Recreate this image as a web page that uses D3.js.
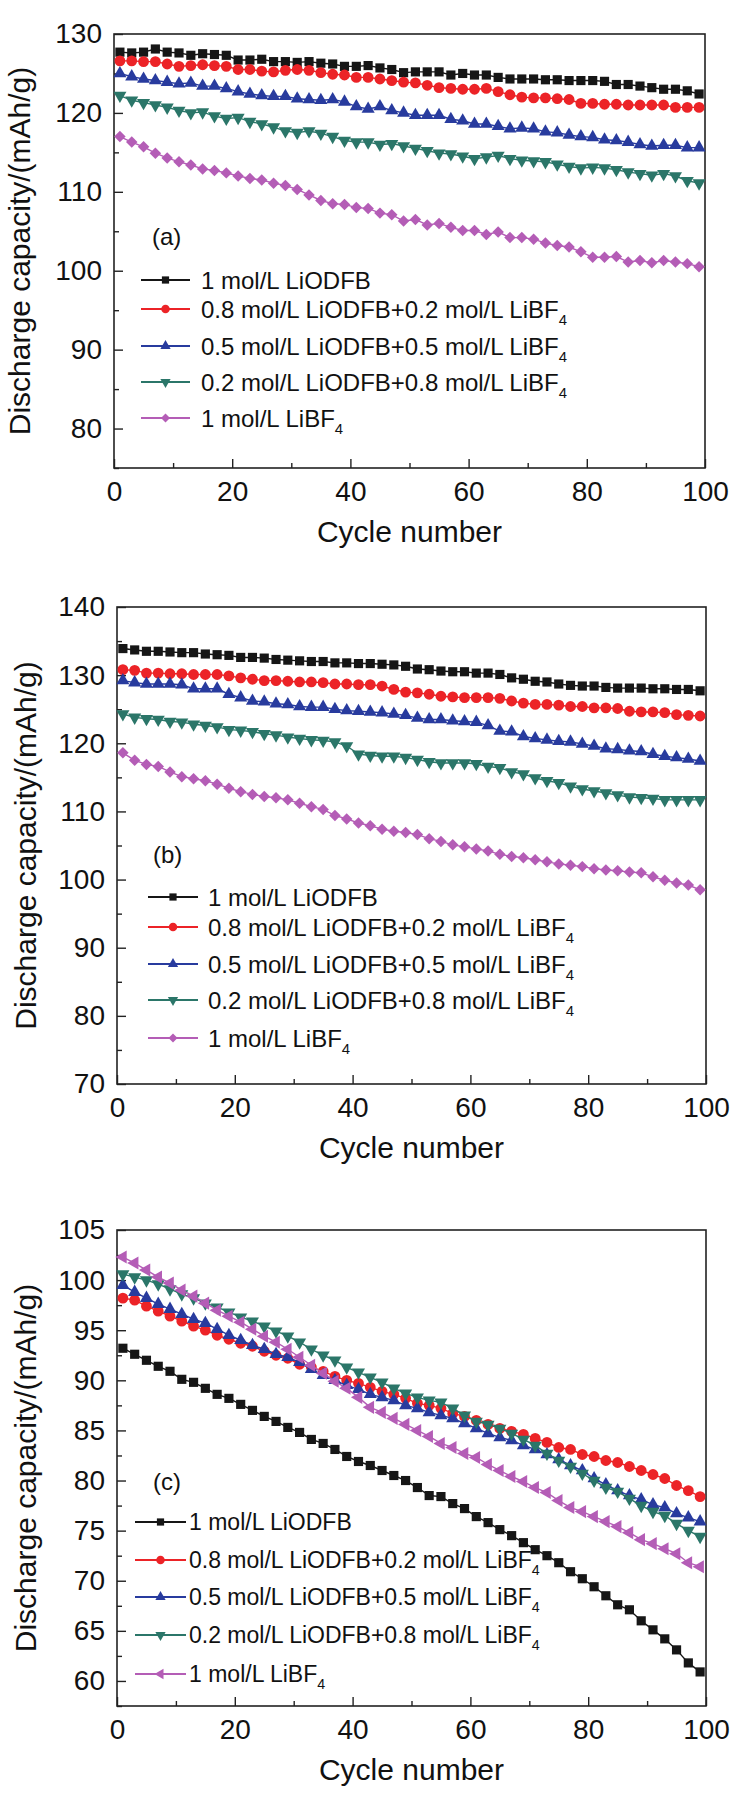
<!DOCTYPE html>
<html>
<head>
<meta charset="utf-8">
<script src="https://cdn.jsdelivr.net/npm/d3@7"></script>
<style>
  body { margin: 0; background: #fff; }
  text { font-family: "Liberation Sans", Arial, sans-serif; fill: #111; }
</style>
</head>
<body>
<div id="chart"></div>
<script>
// cycles with a marker (every second cycle)
const cycles = d3.range(1, 100, 2)
const xTicks = [0, 20, 40, 60, 80, 100]
const xMinor = [10, 30, 50, 70, 90]

const seriesColors = ["#161616", "#ec2327", "#283b9e", "#2b7669", "#b45db6"]
const legendMain = ["1 mol/L LiODFB", "0.8 mol/L LiODFB+0.2 mol/L LiBF", "0.5 mol/L LiODFB+0.5 mol/L LiBF",
  "0.2 mol/L LiODFB+0.8 mol/L LiBF", "1 mol/L LiBF"]
const legendSub = ["", "4", "4", "4", "4"]

// panel (a)
const aTicks = [80, 90, 100, 110, 120, 130]
const aMinor = [75, 85, 95, 105, 115, 125]
const aBlack = [127.7, 127.6, 127.7, 128.1, 127.7, 127.6, 127.3, 127.5, 127.4, 127.3, 126.7, 126.7, 126.8, 126.5, 126.5, 126.4, 126.5, 126.3, 126.2, 125.9, 125.9, 126.0, 125.7, 125.5, 125.1, 125.2, 125.2, 125.2, 124.8, 125.0, 124.8, 124.8, 124.5, 124.3, 124.3, 124.3, 124.2, 124.2, 124.1, 124.1, 124.1, 124.0, 123.6, 123.6, 123.4, 123.2, 123.0, 123.0, 122.8, 122.4]
const aRed = [126.6, 126.6, 126.5, 126.5, 126.2, 125.9, 126.0, 126.1, 126.0, 125.9, 125.5, 125.5, 125.3, 125.2, 125.4, 125.5, 125.4, 125.1, 124.9, 124.8, 124.5, 124.5, 124.3, 124.1, 123.9, 123.8, 123.5, 123.2, 123.1, 123.0, 123.0, 123.1, 122.7, 122.3, 122.0, 121.9, 121.9, 121.8, 121.7, 121.2, 121.2, 121.1, 121.1, 121.0, 121.0, 121.0, 121.0, 120.7, 120.7, 120.7]
const aBlue = [125.0, 124.6, 124.3, 124.1, 123.9, 123.7, 123.8, 123.4, 123.4, 123.1, 122.7, 122.4, 122.2, 122.1, 122.1, 121.8, 121.7, 121.6, 121.7, 121.4, 120.8, 120.5, 120.8, 120.3, 120.0, 119.7, 119.7, 119.7, 119.2, 119.0, 118.6, 118.6, 118.3, 118.0, 118.1, 118.0, 117.6, 117.5, 117.2, 117.0, 116.9, 116.6, 116.5, 116.3, 116.0, 115.8, 115.9, 115.9, 115.6, 115.6]
const aGreen = [122.2, 121.6, 121.3, 121.0, 120.7, 120.3, 120.0, 120.1, 119.6, 119.3, 119.4, 118.9, 118.6, 118.2, 117.7, 117.5, 117.7, 117.4, 117.0, 116.5, 116.3, 116.3, 116.0, 116.1, 115.8, 115.5, 115.2, 114.9, 114.8, 114.5, 114.2, 114.4, 114.6, 114.2, 114.0, 113.9, 113.8, 113.5, 113.2, 113.0, 113.1, 113.0, 112.8, 112.5, 112.3, 112.1, 112.3, 112.0, 111.4, 111.1]
const aPurple = [117.0, 116.3, 115.7, 114.9, 114.3, 113.8, 113.4, 112.9, 112.7, 112.4, 112.0, 111.7, 111.5, 111.1, 110.8, 110.3, 109.6, 108.9, 108.5, 108.4, 108.0, 107.9, 107.3, 107.1, 106.3, 106.5, 105.8, 106.0, 105.5, 105.1, 105.1, 104.6, 104.9, 104.2, 104.2, 104.0, 103.5, 103.2, 103.0, 102.4, 101.7, 101.7, 101.8, 101.1, 101.3, 101.0, 101.3, 101.1, 100.9, 100.5]

// panel (b)
const bTicks = [70, 80, 90, 100, 110, 120, 130, 140]
const bMinor = [75, 85, 95, 105, 115, 125, 135]
const bBlack = [133.9, 133.7, 133.5, 133.5, 133.4, 133.3, 133.3, 133.1, 133.0, 132.9, 132.6, 132.6, 132.5, 132.3, 132.2, 132.1, 132.0, 132.0, 131.8, 131.8, 131.7, 131.7, 131.6, 131.5, 131.3, 130.9, 130.8, 130.6, 130.5, 130.5, 130.3, 130.3, 130.1, 129.6, 129.4, 129.1, 129.0, 128.7, 128.5, 128.4, 128.4, 128.2, 128.1, 128.1, 128.1, 128.0, 128.0, 127.9, 127.9, 127.7]
const bRed = [130.8, 130.7, 130.3, 130.3, 130.2, 130.2, 130.1, 130.1, 130.1, 129.9, 129.6, 129.4, 129.2, 129.2, 129.1, 129.0, 129.0, 128.9, 128.7, 128.7, 128.6, 128.6, 128.4, 127.9, 127.5, 127.4, 127.2, 126.9, 126.8, 126.7, 126.7, 126.7, 126.6, 126.2, 125.9, 125.7, 125.7, 125.6, 125.4, 125.4, 125.2, 125.2, 125.1, 124.7, 124.6, 124.6, 124.5, 124.2, 124.1, 124.0]
const bBlue = [129.2, 128.9, 128.7, 128.7, 128.7, 128.6, 128.0, 128.0, 128.0, 127.2, 126.7, 126.2, 126.1, 125.8, 125.7, 125.4, 125.3, 125.3, 125.0, 124.8, 124.7, 124.6, 124.5, 124.3, 124.1, 123.7, 123.5, 123.5, 123.3, 123.2, 123.1, 122.6, 121.8, 121.7, 121.0, 120.7, 120.5, 120.3, 120.2, 119.9, 119.6, 119.2, 119.1, 118.9, 118.8, 118.4, 118.1, 117.9, 117.7, 117.4]
const bGreen = [124.3, 123.8, 123.6, 123.5, 123.2, 123.1, 122.8, 122.6, 122.4, 122.0, 121.9, 121.7, 121.4, 121.2, 120.9, 120.7, 120.5, 120.4, 120.2, 119.6, 118.4, 118.2, 118.1, 118.1, 117.9, 117.6, 117.3, 117.1, 117.1, 117.1, 117.0, 116.6, 116.4, 115.8, 115.5, 114.9, 114.5, 114.2, 113.7, 113.3, 113.0, 112.7, 112.4, 112.1, 112.0, 111.9, 111.7, 111.7, 111.7, 111.7]
const bPurple = [118.6, 117.5, 116.9, 116.6, 115.8, 115.1, 114.8, 114.5, 114.0, 113.4, 112.9, 112.5, 112.2, 112.0, 111.7, 111.2, 110.7, 110.3, 109.4, 108.9, 108.3, 107.9, 107.4, 107.1, 106.9, 106.6, 106.0, 105.6, 105.1, 104.8, 104.5, 104.2, 103.7, 103.4, 103.2, 102.9, 102.6, 102.3, 102.1, 101.9, 101.6, 101.4, 101.3, 101.1, 101.0, 100.4, 99.9, 99.5, 99.2, 98.5]

// panel (c)
const cTicks = [60, 65, 70, 75, 80, 85, 90, 95, 100, 105]
const cMinor = [57.5, 62.5, 67.5, 72.5, 77.5, 82.5, 87.5, 92.5, 97.5, 102.5]
const cBlack = [93.2, 92.6, 92.0, 91.4, 90.9, 90.1, 89.8, 89.2, 88.6, 88.2, 87.6, 87.0, 86.4, 85.9, 85.3, 84.8, 84.1, 83.7, 83.1, 82.4, 81.9, 81.5, 81.0, 80.5, 80.0, 79.3, 78.5, 78.4, 77.7, 77.2, 76.4, 75.8, 75.1, 74.5, 73.8, 73.1, 72.5, 71.8, 70.9, 70.2, 69.4, 68.5, 67.6, 67.1, 66.0, 65.1, 64.2, 63.1, 61.8, 60.9]
const cRed = [98.2, 98.0, 97.4, 96.9, 96.4, 95.9, 95.4, 95.0, 94.5, 94.1, 93.7, 93.4, 92.9, 92.5, 92.2, 91.6, 91.3, 90.9, 90.4, 90.0, 89.7, 89.3, 88.9, 88.6, 88.2, 87.7, 87.5, 87.2, 86.7, 86.4, 86.0, 85.6, 85.2, 84.9, 84.6, 84.2, 83.8, 83.3, 83.1, 82.6, 82.4, 82.0, 81.8, 81.4, 81.0, 80.6, 80.2, 79.5, 79.0, 78.4]
const cBlue = [99.5, 98.8, 98.2, 97.6, 97.1, 96.6, 96.1, 95.7, 95.1, 94.5, 94.0, 93.5, 93.1, 92.6, 92.3, 91.8, 91.1, 90.5, 90.0, 89.5, 89.1, 88.6, 88.3, 88.0, 87.5, 87.2, 86.8, 86.5, 86.2, 85.7, 85.2, 84.7, 84.3, 84.0, 83.5, 83.1, 82.6, 82.1, 81.5, 81.0, 80.2, 79.6, 79.0, 78.5, 78.1, 77.6, 77.3, 76.7, 76.3, 75.9]
const cGreen = [100.6, 100.3, 100.0, 99.6, 99.1, 98.6, 98.2, 97.7, 97.3, 96.8, 96.3, 95.9, 95.4, 94.9, 94.4, 93.8, 93.1, 92.5, 92.0, 91.3, 90.8, 90.3, 89.8, 89.2, 88.7, 88.3, 88.0, 87.8, 87.2, 86.5, 85.9, 85.6, 85.2, 84.7, 84.1, 83.5, 82.7, 82.0, 81.4, 80.7, 80.0, 79.3, 78.9, 78.2, 77.5, 76.9, 76.5, 75.7, 75.0, 74.4]
const cPurple = [102.3, 101.7, 101.0, 100.3, 99.7, 99.0, 98.4, 97.7, 97.0, 96.4, 95.8, 95.1, 94.4, 93.8, 93.1, 92.3, 91.5, 90.7, 89.9, 89.2, 88.3, 87.3, 86.8, 86.2, 85.6, 85.0, 84.4, 83.7, 83.3, 82.7, 82.3, 81.6, 81.0, 80.4, 79.9, 79.3, 78.8, 78.0, 77.3, 76.9, 76.4, 75.9, 75.4, 74.8, 74.1, 73.7, 73.2, 72.7, 71.8, 71.4]

// layout of the three panels
const panels = [
  {tag: "(a)", series: [aBlack, aRed, aBlue, aGreen, aPurple], yDomain: [75, 130], ticks: aTicks, minor: aMinor,
   box: {l: 114, r: 705, t: 34, b: 468}, titleX: 30, tagAt: [38, 211],
   legend: {y: 246, rows: [0, 29, 66, 102, 138], x0: 27, x1: 76, tx: 87, fs: 24},
   shapes: ["square", "circle", "up", "down", "diamond"]},
  {tag: "(b)", series: [bBlack, bRed, bBlue, bGreen, bPurple], yDomain: [70, 140], ticks: bTicks, minor: bMinor,
   box: {l: 117, r: 706, t: 607, b: 1084}, titleX: 36, tagAt: [36, 256],
   legend: {y: 290, rows: [0, 30, 67, 103, 141], x0: 31, x1: 81, tx: 91, fs: 24},
   shapes: ["square", "circle", "up", "down", "diamond"]},
  {tag: "(c)", series: [cBlack, cRed, cBlue, cGreen, cPurple], yDomain: [57.5, 105], ticks: cTicks, minor: cMinor,
   box: {l: 117, r: 706, t: 1230, b: 1706}, titleX: 36, tagAt: [36, 260],
   legend: {y: 292, rows: [0, 38, 75, 113, 152], x0: 18, x1: 69, tx: 72, fs: 23},
   shapes: ["square", "circle", "up", "down", "left"]}
]

const svg = d3.select("#chart").append("svg")
  .attr("width", 744)
  .attr("height", 1800)
  .style("background", "#fff")

// marker path + rotation, k scales the area
function marker(shape, k) {
  if (shape === "square") return {d: d3.symbol(d3.symbolSquare, 84 * k)(), r: 0}
  if (shape === "circle") return {d: d3.symbol(d3.symbolCircle, 92 * k)(), r: 0}
  if (shape === "diamond") return {d: d3.symbol(d3.symbolSquare, 66 * k)(), r: 45}
  const tri = d3.symbol(d3.symbolTriangle, 74 * k)()
  if (shape === "up") return {d: tri, r: 0}
  if (shape === "down") return {d: tri, r: 180}
  return {d: tri, r: -90}
}

panels.forEach(function(p) {
  const bx = p.box
  const g = svg.append("g").attr("transform", `translate(${bx.l},${bx.t})`)
  const w = bx.r - bx.l, h = bx.b - bx.t

  const x = d3.scaleLinear().domain([0, 100]).range([0, w])
  const y = d3.scaleLinear().domain(p.yDomain).range([h, 0])

  // axes with inward ticks
  g.append("g").attr("transform", `translate(0,${h})`)
    .call(d3.axisBottom(x).tickValues(xTicks).tickSize(-9).tickPadding(13).tickFormat(d3.format("d")))
  g.append("g").attr("transform", `translate(0,${h})`)
    .call(d3.axisBottom(x).tickValues(xMinor).tickSize(-5).tickFormat(""))
  g.append("g")
    .call(d3.axisLeft(y).tickValues(p.ticks).tickSize(-9).tickPadding(12).tickFormat(d3.format("d")))
  g.append("g")
    .call(d3.axisLeft(y).tickValues(p.minor).tickSize(-5).tickFormat(""))
  g.selectAll(".domain").remove()
  g.selectAll(".tick line").attr("stroke", "#222").attr("stroke-width", 1.4)
  g.selectAll(".tick text").style("font-family", "'Liberation Sans', Arial, sans-serif")
    .style("font-size", "28px").attr("fill", "#111")

  g.append("rect").attr("width", w).attr("height", h)
    .attr("fill", "none").attr("stroke", "#222").attr("stroke-width", 1.6)

  // series
  const line = d3.line().x((v, i) => x(cycles[i])).y(v => y(v))
  p.series.forEach(function(vals, k) {
    g.append("path").datum(vals)
      .attr("d", line).attr("fill", "none")
      .attr("stroke", seriesColors[k]).attr("stroke-width", 1.4)
    const m = marker(p.shapes[k], 1)
    g.append("g").selectAll("path")
      .data(vals)
      .join("path")
      .attr("d", m.d)
      .attr("transform", (v, i) => `translate(${x(cycles[i])},${y(v)}) rotate(${m.r})`)
      .attr("fill", seriesColors[k])
  })

  // panel tag
  g.append("text").attr("x", p.tagAt[0]).attr("y", p.tagAt[1])
    .style("font-size", "24px").text(p.tag)

  // legend
  const lg = p.legend
  legendMain.forEach(function(txt, k) {
    const ly = lg.y + lg.rows[k]
    g.append("line").attr("x1", lg.x0).attr("x2", lg.x1).attr("y1", ly).attr("y2", ly)
      .attr("stroke", seriesColors[k]).attr("stroke-width", 1.8)
    const m = marker(p.shapes[k], 0.62)
    g.append("path").attr("d", m.d)
      .attr("transform", `translate(${(lg.x0 + lg.x1) / 2},${ly}) rotate(${m.r})`)
      .attr("fill", seriesColors[k])
    const t = g.append("text").attr("x", lg.tx).attr("y", ly).attr("dy", "0.36em")
      .style("font-size", lg.fs + "px")
    t.append("tspan").text(txt)
    if (legendSub[k]) t.append("tspan").attr("dy", 7).style("font-size", (lg.fs * 0.62) + "px").text(legendSub[k])
  })

  // axis titles
  g.append("text").attr("x", w / 2).attr("y", h + 74)
    .attr("text-anchor", "middle").style("font-size", "30px").text("Cycle number")
  svg.append("text")
    .attr("transform", `translate(${p.titleX},${bx.t + h / 2}) rotate(-90)`)
    .attr("text-anchor", "middle").style("font-size", "30px")
    .text("Discharge capacity/(mAh/g)")
})
</script>
</body>
</html>
